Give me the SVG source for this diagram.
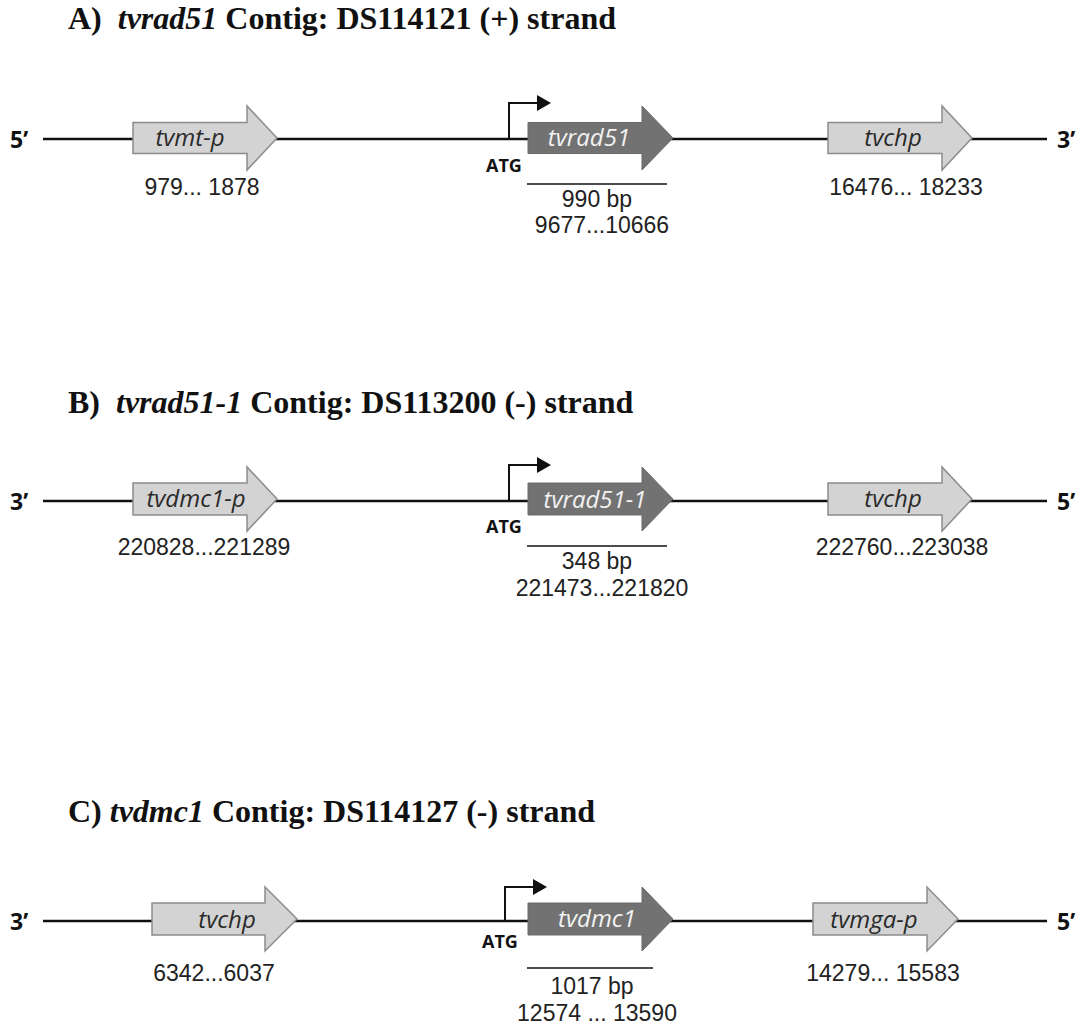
<svg xmlns="http://www.w3.org/2000/svg" width="1086" height="1029" viewBox="0 0 1086 1029">
<style>
.title{font-family:"Liberation Serif","Times New Roman",serif;font-weight:bold;font-size:32px;fill:#111}
.ti{font-style:italic}
.end{font-family:"Open Sans","Liberation Sans",sans-serif;font-weight:bold;font-size:23px;fill:#111}
.atg{font-family:"Open Sans","Liberation Sans",sans-serif;font-weight:bold;font-size:18px;fill:#111}
.num{font-family:"Liberation Sans",Arial,sans-serif;font-size:23px;fill:#222;text-anchor:middle}
.lab{font-family:"Open Sans","Liberation Sans",sans-serif;font-style:italic;font-size:24px;fill:#2a2a2a;text-anchor:middle}
.labd{font-family:"Open Sans","Liberation Sans",sans-serif;font-style:italic;font-size:24px;fill:#f2f2f2;text-anchor:middle}
.light{fill:#d3d3d3;stroke:#8c8c8c;stroke-width:1.5}
.dark{fill:#727272;stroke:#6a6a6a;stroke-width:1}
.dna{stroke:#111;stroke-width:2.6;fill:none}
.prom{stroke:#111;stroke-width:2;fill:none}
.bar{stroke:#111;stroke-width:1.5}
</style>

<g id="titles">
<text class="title" x="68" y="29" xml:space="preserve">A)  <tspan class="ti">tvrad51</tspan> Contig: DS114121 (+) strand</text>
<text class="title" x="68" y="413" xml:space="preserve">B)  <tspan class="ti">tvrad51-1</tspan> Contig: DS113200 (-) strand</text>
<text class="title" x="68" y="822" xml:space="preserve">C) <tspan class="ti">tvdmc1</tspan> Contig: DS114127 (-) strand</text>
</g>

<g id="connectors">
<line class="dna" x1="43" y1="139" x2="1047" y2="139"/>
<line class="dna" x1="43" y1="501" x2="1047" y2="501"/>
<line class="dna" x1="43" y1="921" x2="1047" y2="921"/>
</g>

<g id="ends">
<text class="end" x="10" y="148">5’</text>
<text class="end" x="1057" y="148">3’</text>
<text class="end" x="10" y="510">3’</text>
<text class="end" x="1057" y="510">5’</text>
<text class="end" x="10" y="930">3’</text>
<text class="end" x="1057" y="930">5’</text>
</g>

<!-- Row A -->
<g id="A-tvmt-p">
<path class="light" d="M133,122.5 H247 V106 L277,138 L247,170 V153.5 H133 Z"/>
<text class="lab" x="190" y="146">tvmt-p</text>
<text class="num" x="202" y="195">979... 1878</text>
</g>
<g id="A-tvrad51">
<path class="prom" d="M509,139 V103 H538"/>
<polygon points="537,95 551,103 537,111" fill="#111"/>
<text class="atg" x="486" y="172">ATG</text>
<path class="dark" d="M528,122.5 H642 V106 L673,138 L642,170 V153.5 H528 Z"/>
<text class="labd" x="589" y="146">tvrad51</text>
<line class="bar" x1="527" y1="184" x2="667" y2="184"/>
<text class="num" x="597" y="207">990 bp</text>
<text class="num" x="602" y="233">9677...10666</text>
</g>
<g id="A-tvchp">
<path class="light" d="M828,122.5 H942 V106 L972,138 L942,170 V153.5 H828 Z"/>
<text class="lab" x="893" y="146">tvchp</text>
<text class="num" x="906" y="195">16476... 18233</text>
</g>

<!-- Row B -->
<g id="B-tvdmc1-p">
<path class="light" d="M133,483 H247 V467 L277,499 L247,531 V515 H133 Z"/>
<text class="lab" x="196" y="507">tvdmc1-p</text>
<text class="num" x="204" y="555">220828...221289</text>
</g>
<g id="B-tvrad51-1">
<path class="prom" d="M509,501 V465 H538"/>
<polygon points="537,457 551,465 537,473" fill="#111"/>
<text class="atg" x="486" y="533">ATG</text>
<path class="dark" d="M528,483 H642 V467 L673,499 L642,531 V515 H528 Z"/>
<text class="labd" x="595" y="508">tvrad51-1</text>
<line class="bar" x1="527" y1="546" x2="667" y2="546"/>
<text class="num" x="597" y="569">348 bp</text>
<text class="num" x="602" y="596">221473...221820</text>
</g>
<g id="B-tvchp">
<path class="light" d="M828,483 H942 V467 L972,499 L942,531 V515 H828 Z"/>
<text class="lab" x="893" y="507">tvchp</text>
<text class="num" x="902" y="555">222760...223038</text>
</g>

<!-- Row C -->
<g id="C-tvchp">
<path class="light" d="M152,903 H265 V887 L297,919 L265,951 V935 H152 Z"/>
<text class="lab" x="227" y="928">tvchp</text>
<text class="num" x="214" y="981">6342...6037</text>
</g>
<g id="C-tvdmc1">
<path class="prom" d="M505,921 V887 H534"/>
<polygon points="533,879 547,887 533,895" fill="#111"/>
<text class="atg" x="482" y="948">ATG</text>
<path class="dark" d="M528,903 H642 V887 L673,919 L642,951 V935 H528 Z"/>
<text class="labd" x="597" y="927">tvdmc1</text>
<line class="bar" x1="527" y1="968" x2="653" y2="968"/>
<text class="num" x="592" y="994">1017 bp</text>
<text class="num" x="597" y="1021">12574 ... 13590</text>
</g>
<g id="C-tvmga-p">
<path class="light" d="M813,903 H927 V887 L958,919 L927,951 V935 H813 Z"/>
<text class="lab" x="874" y="928">tvmga-p</text>
<text class="num" x="883" y="981">14279... 15583</text>
</g>
</svg>
